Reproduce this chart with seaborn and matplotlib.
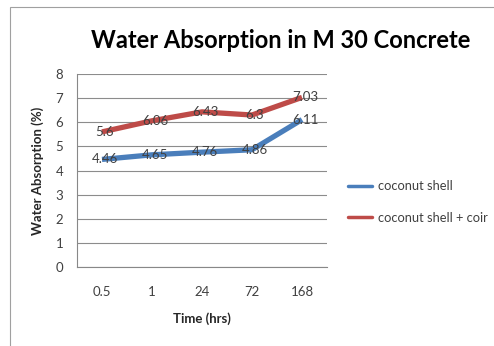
import matplotlib
matplotlib.use("Agg")
import matplotlib.pyplot as plt
import seaborn as sns
import pandas as pd
import numpy as np

categories = ["0.5", "1", "24", "72", "168"]
coconut_shell = [4.46, 4.65, 4.76, 4.86, 6.11]
coconut_coir = [5.6, 6.06, 6.43, 6.3, 7.03]
series_names = ["coconut shell", "coconut shell + coir"]
colors = ["#4A7EBB", "#BE4B48"]

sns.set_style("white")
plt.rcParams['font.family'] = ['Lato', 'DejaVu Sans']

pos = np.arange(len(categories))
df = pd.DataFrame({
    "pos": np.concatenate([pos, pos]),
    "value": coconut_shell + coconut_coir,
    "series": [series_names[0]] * len(pos) + [series_names[1]] * len(pos),
})

fig = plt.figure(figsize=(4.94, 3.46), dpi=100)
# outer border
fig.patches.append(plt.Rectangle((10/494, -0.1), 1.2, (346-7)/346 + 0.1, transform=fig.transFigure,
                                 fill=False, edgecolor="#A0A0A0", linewidth=0.8))
ax = fig.add_axes([77/494, 1 - 267/346, (327-77)/494, (267-74)/346])

sns.lineplot(data=df, x="pos", y="value", hue="series", palette=colors,
             linewidth=3.8, ax=ax, legend=False, solid_capstyle="butt")

for vals in [coconut_shell, coconut_coir]:
    for x, v in zip(pos, vals):
        ax.text(x + 0.06, v, f"{v:g}", ha="center", va="center", fontsize=9.5, color="#404040")

ax.set_xlim(-0.5, len(categories) - 0.5)
ax.set_ylim(0, 8)
ax.set_yticks(range(0, 9))
ax.set_xticks(np.arange(-0.5, len(categories)), labels=[""] * (len(categories) + 1))
ax.set_xticks(pos, labels=categories, minor=True)
ax.tick_params(axis="x", which="major", length=5, color="#888888", direction="out")
ax.tick_params(axis="x", which="minor", length=0, pad=14, labelsize=9.5, labelcolor="#404040")
ax.tick_params(axis="y", length=4, color="#888888", labelsize=9.5, labelcolor="#404040", pad=6)
ax.grid(axis="y", color="#8C8C8C", linewidth=0.8)
ax.set_axisbelow(True)
for s in ["top", "right"]:
    ax.spines[s].set_visible(False)
for s in ["left", "bottom"]:
    ax.spines[s].set_color("#888888")
    ax.spines[s].set_linewidth(0.8)

ax.set_xlabel("Time (hrs)", fontsize=9.5, fontweight="bold", labelpad=10)
ax.set_ylabel("Water Absorption (%)", fontsize=9.5, fontweight="bold", labelpad=8)
fig.text(281/494, 1 - 40/346, "Water Absorption in M 30 Concrete", ha="center", va="center",
         fontsize=17, fontweight="bold", color="#000000")

from matplotlib.lines import Line2D
handles = [Line2D([], [], color=c, linewidth=2.5) for c in colors]
fig.legend(handles, series_names, loc="center left", bbox_to_anchor=(344/494, 1 - 202/346),
           frameon=False, fontsize=9.3, handlelength=1.9, labelspacing=1.5, handletextpad=0.4,
           labelcolor="#404040", borderaxespad=0, borderpad=0.3)

fig.savefig("out.png", dpi=100)
